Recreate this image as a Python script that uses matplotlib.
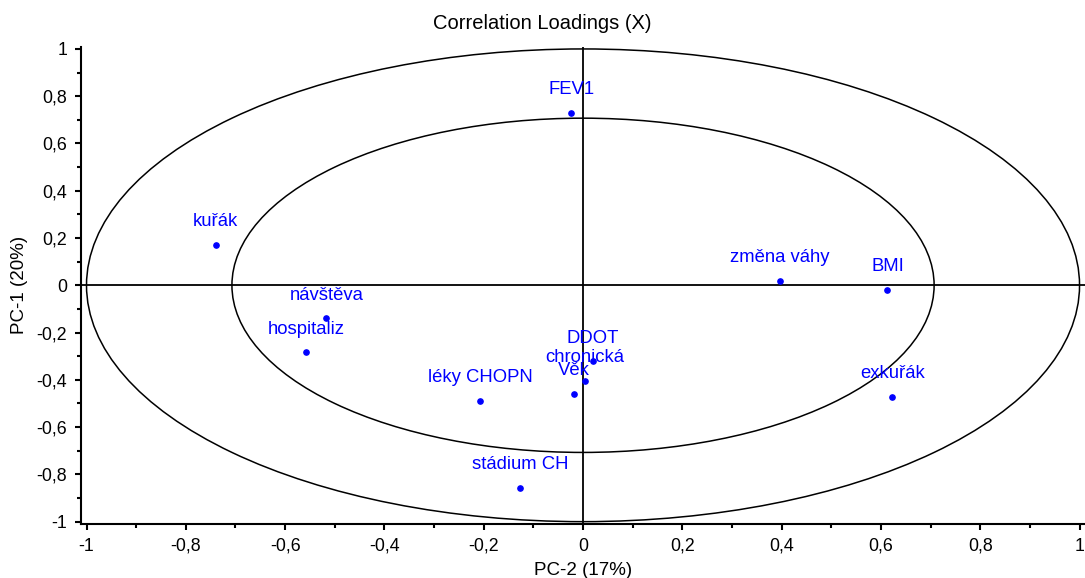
import numpy as np
import matplotlib
matplotlib.use("Agg")
import matplotlib.pyplot as plt
from matplotlib.patches import Circle
from matplotlib.ticker import MultipleLocator, FuncFormatter

plt.rcParams.update({"font.family": ["Liberation Sans", "DejaVu Sans"]})

# loadings: x = PC-2, y = PC-1
names = ["FEV1", "kuřák", "návštěva", "hospitaliz", "léky CHOPN", "Věk",
         "chronická", "DDOT", "změna váhy", "BMI", "exkuřák", "stádium CH"]
pc2 = [-0.024, -0.740, -0.517, -0.557, -0.207, -0.019,
       0.003, 0.020, 0.396, 0.613, 0.623, -0.126]
pc1 = [0.730, 0.171, -0.140, -0.284, -0.488, -0.459,
       -0.405, -0.322, 0.018, -0.020, -0.473, -0.858]
radii = [1.0, np.sqrt(0.5)]

BLUE = "#0000ff"

fig = plt.figure(figsize=(10.85, 5.78), dpi=100)
ax = fig.add_axes([0.0747, 0.0934, 0.9253, 0.8260])

for r in radii:
    ax.add_patch(Circle((0, 0), r, fill=False, color="black", lw=1.1))
ax.axhline(0, color="black", lw=1.3)
ax.axvline(0, color="black", lw=1.3)

ax.plot(pc2, pc1, "o", color=BLUE, ms=3.8, ls="none")
for n, x, y in zip(names, pc2, pc1):
    ax.annotate(n, (x, y), textcoords="offset points", xytext=(0, 13.4),
                ha="center", va="baseline", color=BLUE, fontsize=13.3)

ax.set_xlim(-1.011, 1.011)
ax.set_ylim(-1.01, 1.01)
for s in ("top", "right"):
    ax.spines[s].set_visible(False)
for s in ("left", "bottom"):
    ax.spines[s].set_linewidth(1.5)

fmt = FuncFormatter(lambda v, p: ("%g" % round(v, 2)).replace(".", ",") if abs(v) > 1e-9 else "0")
for a in (ax.xaxis, ax.yaxis):
    a.set_major_locator(MultipleLocator(0.2))
    a.set_minor_locator(MultipleLocator(0.1))
    a.set_major_formatter(fmt)
ax.tick_params(which="major", length=4, width=1.5, labelsize=12.8, pad=6)
ax.tick_params(which="minor", length=3, width=1.5)

ax.set_xlabel("PC-2 (17%)", fontsize=13.5, labelpad=5)
ax.set_ylabel("PC-1 (20%)", fontsize=13.5, labelpad=6)
fig.text(0.5, 1 - 29 / 578, "Correlation Loadings (X)", fontsize=14.5,
         ha="center", va="baseline")

fig.savefig("out.png", dpi=100)
